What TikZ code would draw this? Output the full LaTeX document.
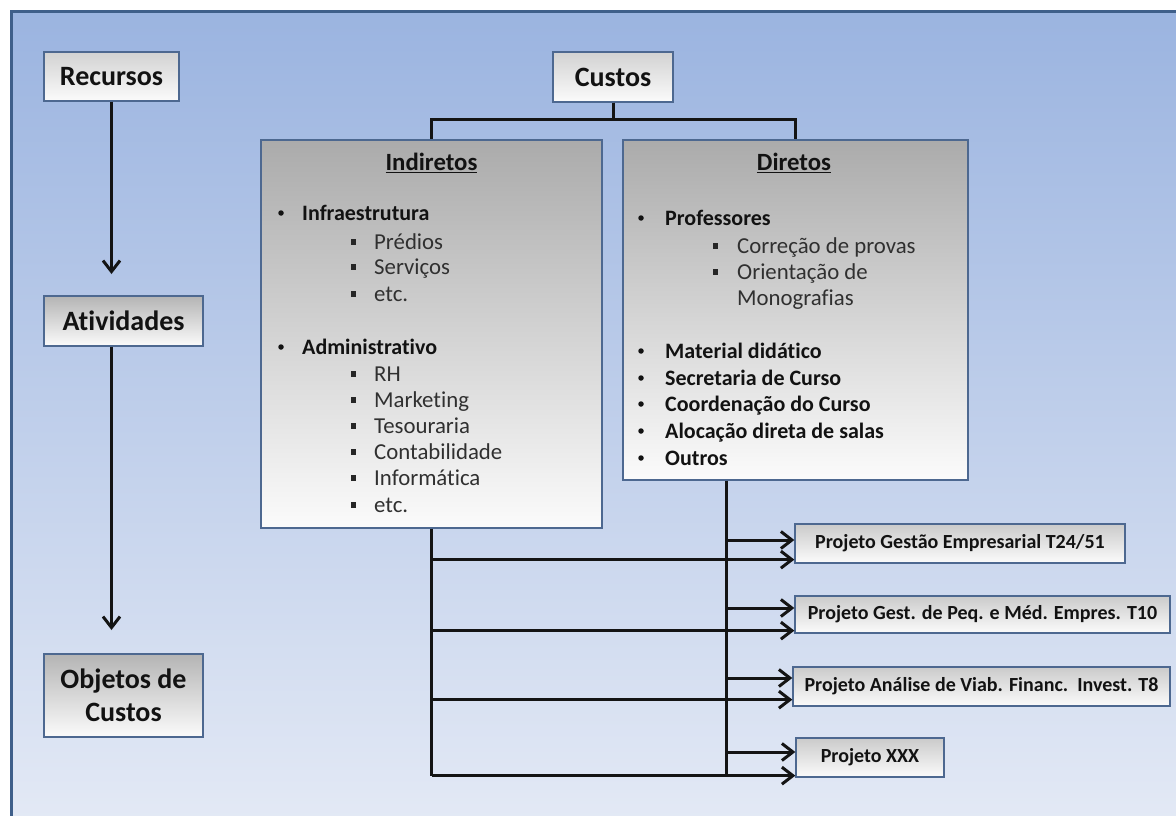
\documentclass[tikz,border=0pt]{standalone}
\usepackage{fontspec}
\setmainfont{Carlito}[Ligatures=NoCommon]
\usetikzlibrary{arrows.meta}
\definecolor{bgtop}{HTML}{9BB4E0}
\definecolor{bgbot}{HTML}{E3E9F5}
\definecolor{framec}{HTML}{3F5F8A}
\definecolor{boxline}{HTML}{4D6890}
\definecolor{gtop}{HTML}{B4B4B4}
\definecolor{ltop}{HTML}{D2D2D2}
\definecolor{gbot}{HTML}{FBFBFB}
\definecolor{subtext}{HTML}{303030}
\definecolor{maintext}{HTML}{121212}
\tikzset{
  smallbox/.style={draw=boxline, line width=1.3pt, top color=gtop, bottom color=gbot,
    inner sep=0pt, align=center, text=maintext, font=\bfseries\fontsize{28}{33}\selectfont},
  lightbox/.style={smallbox, top color=ltop},
  bigbox/.style={draw=boxline, line width=1.3pt, top color=gtop!95!black, bottom color=gbot, inner sep=0pt},
  projbox/.style={draw=boxline, line width=1.3pt, top color=gtop!70!white, bottom color=gbot,
    inner sep=0pt, text=maintext, font=\bfseries\fontsize{20}{24}\selectfont},
  conn/.style={line width=3pt, draw=black!92},
  arr/.style={conn, -{Straight Barb[length=11pt,width=17pt]}},
  ttl/.style={inner sep=0pt, text=maintext, font=\bfseries\fontsize{24.8}{29}\selectfont},
  lone/.style={anchor=base west, inner sep=0pt, text=maintext, font=\bfseries\fontsize{22}{26}\selectfont},
  ltwo/.style={anchor=base west, inner sep=0pt, text=subtext, font=\fontsize{22.8}{26}\selectfont},
  dot/.style={circle, fill=maintext, inner sep=0pt, minimum size=5.5pt},
  sq/.style={fill=black!85, inner sep=0pt, minimum size=5.5pt}
}
\begin{document}
\begin{tikzpicture}[x=1pt,y=-1pt]
\useasboundingbox (0,0) rectangle (1176,816);
\fill[white] (0,0) rectangle (1176,816);
\shade[top color=bgtop, bottom color=bgbot] (11,12) rectangle (1180,820);
\draw[framec, line width=3pt] (11,820) -- (11,12) -- (1180,12);

% left column
\node[lightbox, minimum width=135pt, minimum height=49pt] (rec) at (111.5,76.5) {Recursos};
\node[smallbox, minimum width=159pt, minimum height=50pt] (act) at (123.5,321) {Atividades};
\node[smallbox, minimum width=159pt, minimum height=83pt] (obj) at (123.5,695.5) {Objetos de\\Custos};
\coordinate (a1) at (111.5,274);
\coordinate (a2) at (111.5,630);
\draw[arr] (rec.south) -- (a1);
\draw[arr] (act.south -| rec.south) -- (a2);

% tree
\node[lightbox, minimum width=120pt, minimum height=50pt] (cus) at (613,77) {Custos};
\node[bigbox, minimum width=341pt, minimum height=388pt] (ind) at (431.5,334) {};
\node[bigbox, minimum width=345pt, minimum height=340pt] (dir) at (795.5,310) {};
\draw[conn] (cus.south) -- ++(0,17) -| (ind.north);
\draw[conn] (cus.south) -- ++(0,17) -| (dir.north);

% Indiretos content
\node[ttl] (indt) at (431.5,163) {\underline{Indiretos}};
\node[dot] (ib1) at (281,213) {};
\node[lone] (ia1) at (302,220) {Infraestrutura};
\node[dot] (ib2) at (281,347) {};
\node[lone] (ia2) at (302,354) {Administrativo};
\foreach \n/\y/\t in {1/242/Prédios,2/267/Serviços,3/294/etc.,4/374/RH,5/400/Marketing,6/426/Tesouraria,7/452/Contabilidade,8/478/Informática,9/505/etc.}{
  \node[sq] (isq\n) at (353.5,\y) {};
  \node[ltwo] (is\n) at (374,\y+7) {\t};
}

% Diretos content
\node[ttl] (dirt) at (794,163) {\underline{Diretos}};
\foreach \n/\y/\t in {1/218/Professores,2/351/Material didático,3/378/Secretaria de Curso,4/404/Coordenação do Curso,5/431/Alocação direta de salas,6/458/Outros}{
  \node[dot] (db\n) at (641,\y) {};
  \node[lone] (da\n) at (665,\y+7) {\t};
}
\node[sq] (dsq1) at (715.5,246) {};
\node[ltwo] (ds1) at (737,253) {Correção de provas};
\node[sq] (dsq2) at (715.5,272) {};
\node[ltwo] (ds2) at (737,279) {Orientação de};
\node[ltwo] (ds3) at (737,305) {Monografias};

% projects
\node[projbox, minimum width=330pt, minimum height=39pt] (p1) at (960,543.5) {Projeto Gestão Empresarial T24/51};
\node[projbox, minimum width=375pt, minimum height=37pt] (p2) at (982.5,614.5) {Projeto Gest. de Peq. e Méd. Empres. T10};
\node[projbox, minimum width=377pt, minimum height=39pt] (p3) at (981.5,686.5) {Projeto Análise de Viab. Financ.\ \ Invest. T8};
\node[projbox, minimum width=148pt, minimum height=39pt] (p4) at (870,757.5) {Projeto XXX};

% arrow end points on projects
\coordinate (ti1) at ([yshift=4pt]p1.south west);
\coordinate (ti2) at ([yshift=3pt]p2.south west);
\coordinate (ti3) at ([yshift=7pt]p3.south west);
\coordinate (ti4) at ([yshift=2pt]p4.south west);
\coordinate (td1) at ([yshift=3.5pt]p1.west);
\coordinate (td2) at ([yshift=6.5pt]p2.west);
\coordinate (td3) at ([yshift=8.5pt]p3.west);
\coordinate (td4) at ([yshift=5.5pt]p4.west);

% spines
\coordinate (dsp) at ([xshift=-69.5pt]dir.south);
\draw[conn] (ind.south) -- (ind.south |- ti4);
\draw[conn] (dsp) -- (dsp |- ti4);
\foreach \k in {1,2,3,4}{
  \draw[arr] (ind.south |- ti\k) -- (ti\k);
  \draw[arr] (dsp |- td\k) -- (td\k);
}
\end{tikzpicture}
\end{document}
